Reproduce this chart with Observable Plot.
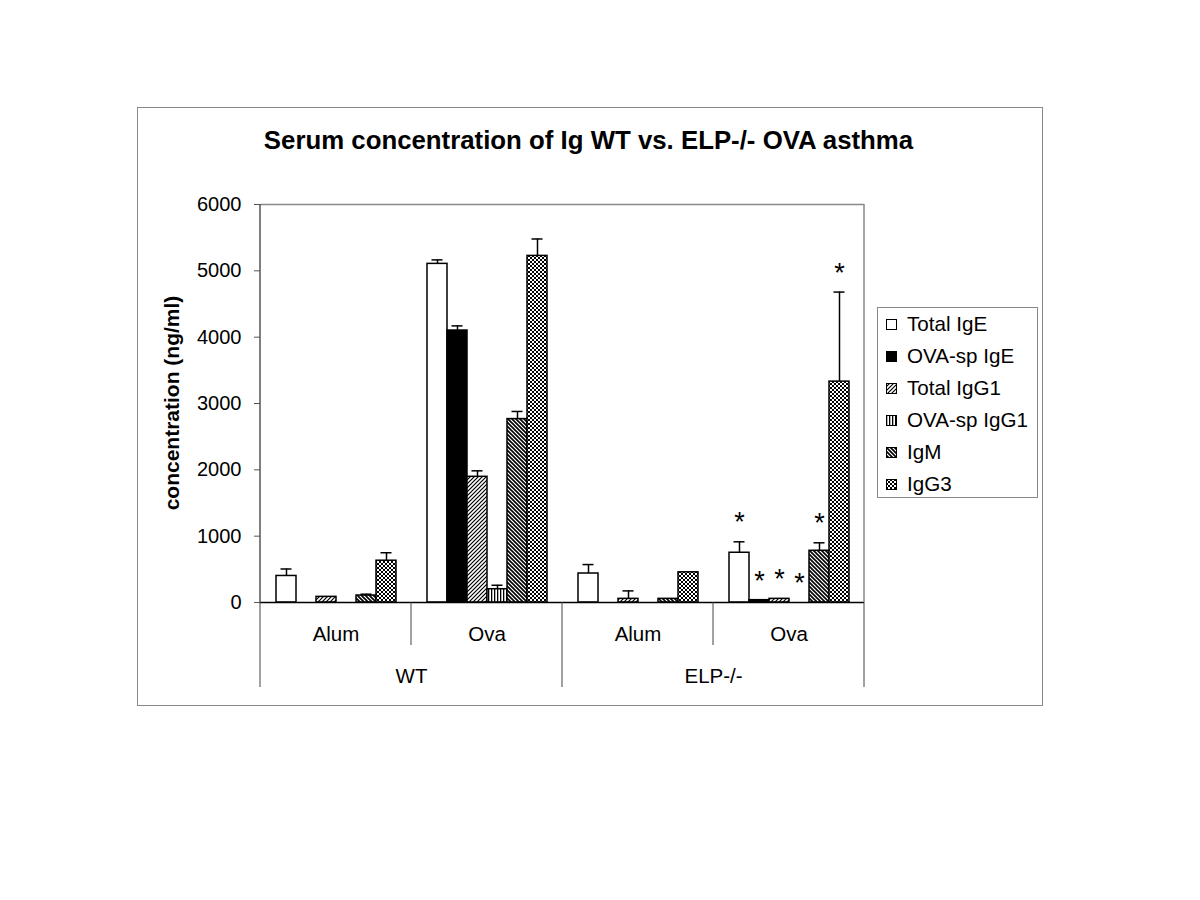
<!DOCTYPE html>
<html>
<head>
<meta charset="utf-8">
<script src="https://cdn.jsdelivr.net/npm/d3@7"></script>
<script src="https://cdn.jsdelivr.net/npm/@observablehq/plot@0.6"></script>
<style>
  body { margin: 0; background: #fff; font-family: "Liberation Sans", Arial, sans-serif; width: 1200px; height: 900px; position: relative; }
  #outer { position: absolute; left: 137px; top: 107px; width: 906px; height: 599px; border: 1px solid #888; box-sizing: border-box; }
  #title { position: absolute; left: 0; width: 1177px; top: 126px; text-align: center; font-weight: bold; font-size: 25.8px; line-height: normal; }
  #chart { position: absolute; left: 150px; top: 185px; }
  #ylabel { position: absolute; left: 172px; top: 403px; transform: translate(-50%, -50%) rotate(-90deg); font-weight: bold; font-size: 21px; white-space: nowrap; }
  #legend { position: absolute; left: 877px; top: 307px; width: 161px; height: 191px; border: 1px solid #888; box-sizing: border-box; }
  .item { position: absolute; left: 8px; font-size: 20.6px; height: 32px; line-height: 32px; white-space: nowrap; display: flex; align-items: center; }
  .item svg { margin-right: 10px; }
</style>
</head>
<body>
<svg width="0" height="0" style="position:absolute">
  <defs>
    <pattern id="pIgG1" patternUnits="userSpaceOnUse" width="4" height="4">
      <rect width="4" height="4" fill="white"/>
      <path d="M-1,1 L1,-1 M0,4 L4,0 M3,5 L5,3" stroke="black" stroke-width="1.2"/>
    </pattern>
    <pattern id="pIgM" patternUnits="userSpaceOnUse" width="4" height="4">
      <rect width="4" height="4" fill="white"/>
      <path d="M-1,3 L1,5 M0,0 L4,4 M3,-1 L5,1" stroke="black" stroke-width="1.6"/>
    </pattern>
    <pattern id="pOvaIgG1" patternUnits="userSpaceOnUse" width="3" height="3">
      <rect width="3" height="3" fill="white"/>
      <rect x="0" width="1.3" height="3" fill="black"/>
    </pattern>
    <pattern id="pIgG3" patternUnits="userSpaceOnUse" width="4" height="4">
      <rect width="4" height="4" fill="white"/>
      <rect x="0" y="0" width="2" height="2" fill="black"/>
      <rect x="2" y="2" width="2" height="2" fill="black"/>
    </pattern>
  </defs>
</svg>
<div id="outer"></div>
<div id="title">Serum concentration of Ig WT vs. ELP-/- OVA asthma</div>
<div id="ylabel">concentration (ng/ml)</div>
<div id="chart"></div>
<div id="legend"></div>
<script>
// ---- data ----
const series = ["Total IgE", "OVA-sp IgE", "Total IgG1", "OVA-sp IgG1", "IgM", "IgG3"];
const groupKeys = ["WT Alum", "WT Ova", "ELP-/- Alum", "ELP-/- Ova"];
const treatments = ["Alum", "Ova", "Alum", "Ova"];
const genotypes = ["WT", "WT", "ELP-/-", "ELP-/-"];
const genotypeLabels = ["WT", "ELP-/-"];
const yTicks = [0, 1000, 2000, 3000, 4000, 5000, 6000];

const wtAlumMean = [400, 0, 85, 0, 105, 630];
const wtAlumErr  = [105, 0, 0, 0, 20, 120];
const wtOvaMean  = [5105, 4100, 1895, 200, 2765, 5225];
const wtOvaErr   = [60, 70, 90, 60, 115, 255];
const elpAlumMean = [437, 0, 55, 0, 55, 455];
const elpAlumErr  = [135, 0, 120, 0, 0, 0];
const elpOvaMean  = [750, 35, 55, 0, 780, 3330];
const elpOvaErr   = [165, 0, 0, 0, 120, 1350];
const elpOvaStars = ["Total IgE", "OVA-sp IgE", "Total IgG1", "OVA-sp IgG1", "IgM", "IgG3"];

// ---- styles ----
const fills = ["white", "black", "url(#pIgG1)", "url(#pOvaIgG1)", "url(#pIgM)", "url(#pIgG3)"];

const means = [wtAlumMean, wtOvaMean, elpAlumMean, elpOvaMean];
const errs = [wtAlumErr, wtOvaErr, elpAlumErr, elpOvaErr];
const rows = groupKeys.flatMap((g, i) => series.map((s, j) => ({group: g, series: s, value: means[i][j], err: errs[i][j]})));
const errRows = rows.filter(d => d.err > 0);
const starRows = rows.filter(d => d.group === "ELP-/- Ova" && elpOvaStars.includes(d.series));
const genoRows = genotypeLabels.map(label => ({group: groupKeys[genotypes.indexOf(label)], label}));

const plot = Plot.plot({
  width: 730, height: 520,
  marginLeft: 109, marginRight: 16, marginTop: 19, marginBottom: 103,
  style: {fontFamily: '"Liberation Sans", Arial, sans-serif', fontSize: "20px", color: "black", background: "transparent", overflow: "visible"},
  fx: {domain: groupKeys, padding: 0, label: null},
  x: {domain: series, paddingInner: 0, paddingOuter: 0.775, axis: null},
  y: {domain: [0, 6000], label: null},
  color: {domain: series, range: fills},
  marks: [
    Plot.ruleY([6000], {stroke: "#888", strokeWidth: 1.5}),
    Plot.barY(rows, {fx: "group", x: "series", y: "value", fill: "series", stroke: "black", strokeWidth: 1.5}),
    Plot.ruleY([0], {stroke: "black", strokeWidth: 1.5}),
    Plot.ruleX(errRows, {fx: "group", x: "series", y1: "value", y2: d => d.value + d.err, stroke: "black", strokeWidth: 1.5}),
    Plot.tickY(errRows, {fx: "group", x: "series", y: d => d.value + d.err, insetLeft: 4.5, insetRight: 4.5, stroke: "black", strokeWidth: 1.5}),
    Plot.text(starRows, {fx: "group", x: "series", y: d => d.value + d.err, text: () => "*", fontSize: 27, dy: -19}),
    Plot.axisY({ticks: yTicks, tickFormat: d => String(d), tickSize: 6, tickPadding: 13, fontSize: 20, label: null, stroke: "#555"}),
    Plot.axisFx({anchor: "bottom", tickSize: 0, tickPadding: 24, fontSize: 20.5, label: null, tickFormat: d => treatments[groupKeys.indexOf(d)]}),
    Plot.text(genoRows, {fx: "group", text: "label", frameAnchor: "bottom-right", textAnchor: "middle", lineAnchor: "middle", dy: 74, fontSize: 20.5})
  ]
});

// Category separators and plot-area border, positioned from the library's scales
const fxS = plot.scale("fx"), yS = plot.scale("y");
const yTop = yS.apply(6000), yBase = yS.apply(0);
const edges = groupKeys.map(g => fxS.apply(g));
edges.push(fxS.apply(groupKeys[groupKeys.length - 1]) + fxS.bandwidth);
const g = d3.select(plot).append("g");
g.append("line").attr("x1", edges[0]).attr("x2", edges[0]).attr("y1", yTop).attr("y2", yBase).attr("stroke", "#555").attr("stroke-width", 1.5);
g.append("line").attr("x1", edges[4]).attr("x2", edges[4]).attr("y1", yTop).attr("y2", yBase).attr("stroke", "#888").attr("stroke-width", 1.5);
edges.forEach((x, i) => {
  const outer = i % 2 === 0;
  g.append("line").attr("x1", x).attr("x2", x).attr("y1", yBase).attr("y2", yBase + (outer ? 85 : 43)).attr("stroke", "#444").attr("stroke-width", 1);
});
document.getElementById("chart").appendChild(plot);

// Legend
const legend = document.getElementById("legend");
series.forEach((s, i) => {
  const item = document.createElement("div");
  item.className = "item";
  item.style.top = (i * 32) + "px";
  item.innerHTML = `<svg width="11" height="11"><rect x="0.5" y="0.5" width="10" height="10" fill="${fills[i]}" stroke="black" stroke-width="1"/></svg><span>${s}</span>`;
  legend.appendChild(item);
});
</script>
</body>
</html>
